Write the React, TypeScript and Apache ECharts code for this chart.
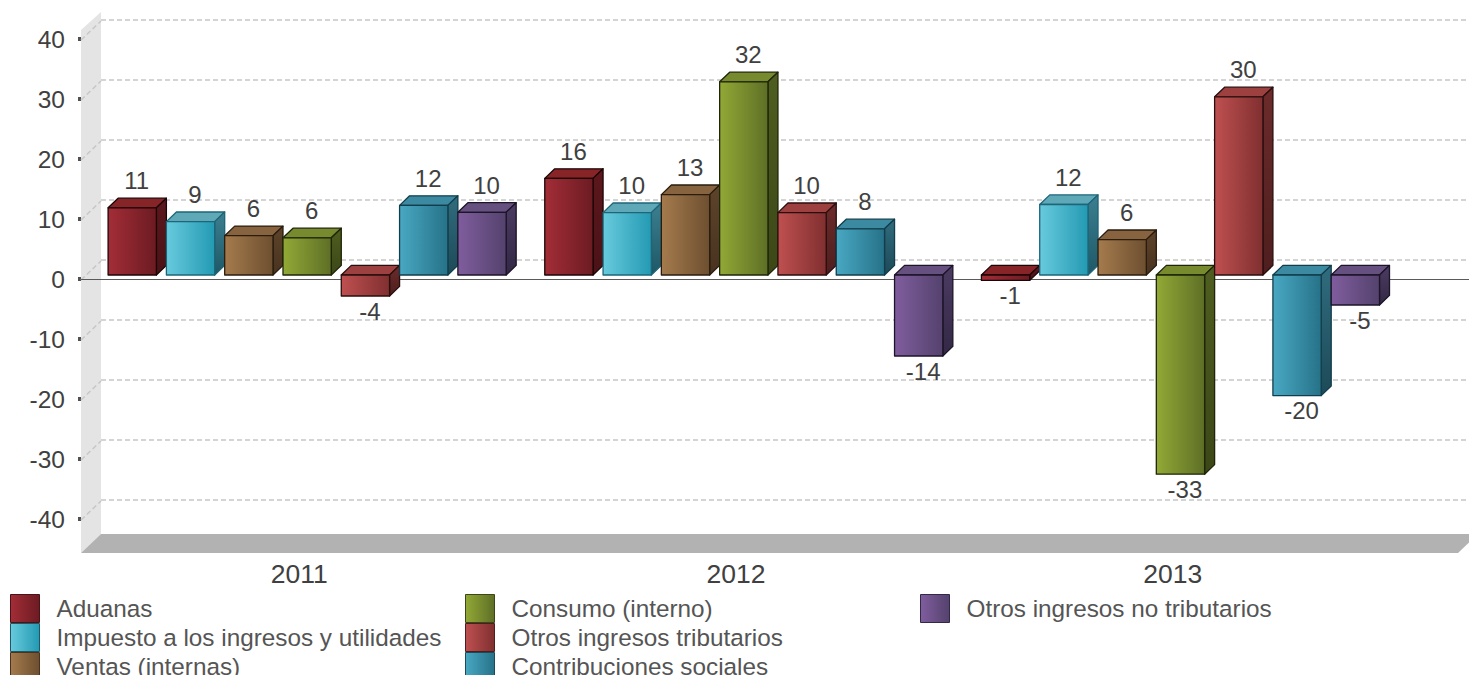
import React, { useEffect, useRef } from "react";
import * as echarts from "echarts";

const categories = ["2011", "2012", "2013"];
const seriesNames = [
  "Aduanas",
  "Impuesto a los ingresos y utilidades",
  "Ventas (internas)",
  "Consumo (interno)",
  "Otros ingresos tributarios",
  "Contribuciones sociales",
  "Otros ingresos no tributarios",
];
const aduanas = [11.2, 16.1, -0.9];
const impuesto = [8.9, 10.4, 11.75];
const ventas = [6.55, 13.4, 5.9];
const consumo = [6.2, 32.2, -33.2];
const otrosTrib = [-3.5, 10.4, 29.7];
const contrib = [11.6, 7.7, -20.1];
const noTrib = [10.45, -13.5, -5];
const seriesValues = [aduanas, impuesto, ventas, consumo, otrosTrib, contrib, noTrib];
const labels = [
  ["11", "16", "-1"],
  ["9", "10", "12"],
  ["6", "13", "6"],
  ["6", "32", "-33"],
  ["-4", "10", "30"],
  ["12", "8", "-20"],
  ["10", "-14", "-5"],
];
const yTicks = [-40, -30, -20, -10, 0, 10, 20, 30, 40];
const palette = [
  { l: "#a32d37", r: "#6c1b22", sl: "#5c171c", sr: "#4a1317", top: "#872428", line: "#1c0507" },
  { l: "#68cadd", r: "#239ab3", sl: "#3c7f90", sr: "#1e5867", top: "#5ea8b8", line: "#1d6577" },
  { l: "#a57b4d", r: "#6d4f30", sl: "#5d432a", sr: "#483320", top: "#876340", line: "#2a1c0e" },
  { l: "#92a936", r: "#5e6f26", sl: "#4f5e20", sr: "#3c4717", top: "#778a2e", line: "#1e2508" },
  { l: "#bf5050", r: "#802f30", sl: "#6c2b2b", sr: "#4e1e1e", top: "#9c4040", line: "#2a0e0e" },
  { l: "#49a8c3", r: "#267288", sl: "#306c7e", sr: "#1d4a58", top: "#3c8aa2", line: "#123e4c" },
  { l: "#805d9e", r: "#54426d", sl: "#4b3b62", sr: "#332845", top: "#66507f", line: "#1c1428" },
];

const FONT = '"Liberation Sans", Arial, sans-serif';
const DEPTH_X = 20;
const DEPTH_Y = 19;

function hGrad(a: string, b: string) {
  return new echarts.graphic.LinearGradient(0, 0, 1, 0, [
    { offset: 0, color: a },
    { offset: 1, color: b },
  ]);
}

function sceneItem(params: any, api: any) {
  const cs = params.coordSys;
  const v = api.value(0);
  const y = api.coord([0, v])[1];
  const children: any[] = [
    {
      type: "line",
      shape: { x1: cs.x, y1: y + 1, x2: cs.x + DEPTH_X, y2: y - DEPTH_Y + 1 },
      style: { stroke: "#c6c6c6", lineWidth: 1.5, lineDash: [5, 3] },
    },
  ];
  if (v === 0) {
    children.push({
      type: "line",
      shape: { x1: cs.x, y1: y + 0.5, x2: 1469, y2: y + 0.5 },
      style: { stroke: "#5a5a5a", lineWidth: 1 },
    });
  }
  return { type: "group", children };
}

function barItem(seriesIndex: number) {
  return (params: any, api: any) => {
    const c = palette[seriesIndex];
    const idx = api.value(0);
    const val = api.value(1);
    const band = api.size([1, 0])[0];
    const step = (band * 58.3) / 436.7;
    const w = (band * 48.3) / 436.7;
    const center = api.coord([idx, 0])[0];
    const x = center + (seriesIndex - 3) * step - w / 2 + 7.8;
    const y0 = api.coord([idx, 0])[1] - 4;
    const y1 = api.coord([idx, val])[1] - 4;
    const top = Math.min(y0, y1);
    const bot = Math.max(y0, y1);
    const dx = 10;
    const dy = 9.6;
    const stroke = { stroke: c.line, lineWidth: 1.3, lineJoin: "round" };
    const cx = x + w / 2 + 4.5;
    return {
      type: "group",
      children: [
        {
          type: "polygon",
          shape: { points: [[x, top], [x + dx, top - dy], [x + w + dx, top - dy], [x + w, top]] },
          style: { fill: c.top, ...stroke },
        },
        {
          type: "polygon",
          shape: { points: [[x + w, top], [x + w + dx, top - dy], [x + w + dx, bot - dy], [x + w, bot]] },
          style: { fill: new echarts.graphic.LinearGradient(0, 0, 0, 1, [{ offset: 0, color: c.sl }, { offset: 1, color: c.sr }]), ...stroke },
        },
        {
          type: "rect",
          shape: { x, y: top, width: w, height: bot - top },
          style: { fill: hGrad(c.l, c.r), ...stroke },
        },
        {
          type: "text",
          style: {
            text: labels[seriesIndex][idx],
            x: cx,
            y: val >= 0 ? top - 27 : bot + 15,
            align: "center",
            verticalAlign: "middle",
            font: `24px ${FONT}`,
            fill: "#404040",
          },
        },
      ],
    };
  };
}

function legendOf(names: number[], left: number) {
  return {
    orient: "vertical" as const,
    left,
    top: 594,
    padding: 0,
    itemGap: 0,
    itemWidth: 29,
    itemHeight: 28,
    icon: "rect",
    selectedMode: false,
    textStyle: { fontFamily: FONT, fontSize: 24.3, color: "#555555", padding: [0, 0, 3, 12] },
    data: names.map((i) => ({
      name: seriesNames[i],
      itemStyle: { color: hGrad(palette[i].l, palette[i].r), borderColor: palette[i].sr, borderWidth: 1 },
    })),
  };
}

export default function App() {
  const ref = useRef<HTMLDivElement>(null);
  useEffect(() => {
    const chart = echarts.init(ref.current!, undefined, { renderer: "svg" });
    chart.setOption({
      animation: false,
      backgroundColor: "#ffffff",
      grid: [
        { left: 81, top: 39, width: 1310, height: 480 },
        { left: 101, top: 20, width: 1368, height: 480 },
      ],
      xAxis: [
        {
          type: "category",
          gridIndex: 0,
          data: categories,
          position: "bottom",
          axisLine: { show: false, onZero: false },
          axisTick: { show: false },
          axisLabel: { margin: 41, fontFamily: FONT, fontSize: 26.5, color: "#404040" },
        },
        { type: "category", gridIndex: 1, data: categories, show: false },
      ],
      yAxis: [
        {
          type: "value",
          gridIndex: 0,
          min: -40,
          max: 40,
          interval: 10,
          axisLine: { show: false },
          axisTick: { show: true, length: 3, lineStyle: { color: "#505050", width: 4 } },
          axisLabel: { margin: 16, fontFamily: FONT, fontSize: 24.5, color: "#404040" },
          splitLine: { show: false },
        },
        {
          type: "value",
          gridIndex: 1,
          min: -40,
          max: 40,
          interval: 10,
          axisLine: { show: false },
          axisTick: { show: false },
          axisLabel: { show: false },
          splitLine: { show: true, lineStyle: { color: "#c6c6c6", width: 1.5, type: [5, 3] } },
        },
      ],
      legend: [legendOf([0, 1, 2], 10), legendOf([3, 4, 5], 465), legendOf([6], 920)],
      graphic: [
        {
          type: "polygon",
          z: -1,
          shape: { points: [[81, 30], [101, 12], [101, 534], [81, 553]] },
          style: { fill: "#e4e4e4" },
        },
        {
          type: "polygon",
          z: -1,
          shape: { points: [[81, 553], [101, 534], [1478, 534], [1458, 553]] },
          style: { fill: "#b2b2b2" },
        },
      ],
      series: [
        {
          type: "custom",
          name: "scene",
          xAxisIndex: 0,
          yAxisIndex: 0,
          silent: true,
          z: 1,
          renderItem: sceneItem,
          encode: { y: 0 },
          data: yTicks.map((t) => [t]),
        },
        ...seriesNames.map((name, i) => ({
          type: "custom",
          name,
          xAxisIndex: 0,
          yAxisIndex: 0,
          z: 3 + i,
          itemStyle: { color: palette[i].r },
          renderItem: barItem(i),
          encode: { x: 0, y: 1 },
          data: seriesValues[i].map((v, k) => [k, v]),
        })),
      ],
    });
    return () => chart.dispose();
  }, []);
  return (
    <div style={{ position: "absolute", left: 0, top: 0, width: 1469, height: 675, overflow: "hidden" }}>
      <div ref={ref} style={{ width: 1469, height: 720 }} />
    </div>
  );
}
